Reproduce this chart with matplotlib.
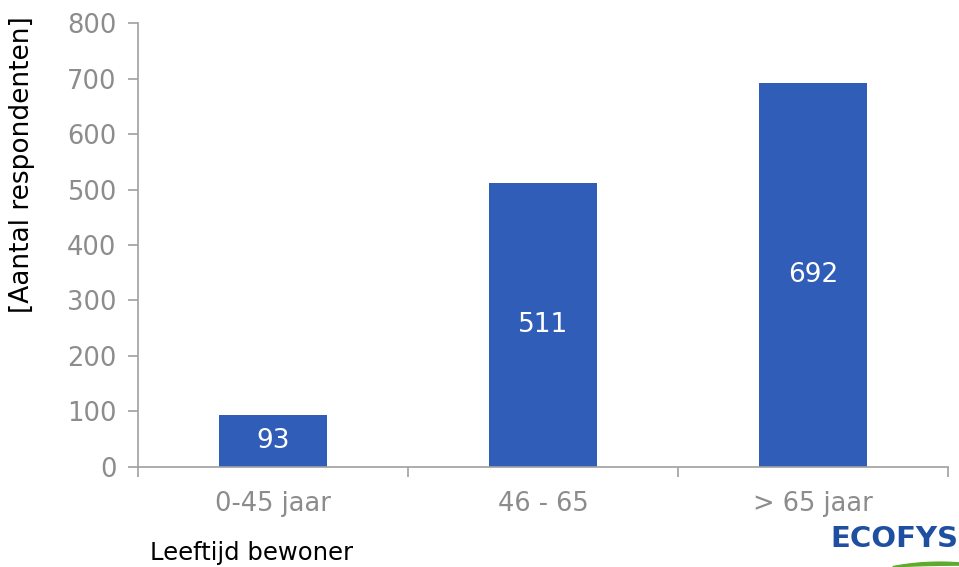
import matplotlib
matplotlib.use("Agg")
import matplotlib.pyplot as plt
import numpy as np
from matplotlib.patches import Polygon

categories = ["0-45 jaar", "46 - 65", "> 65 jaar"]
respondents = [93, 511, 692]
y_ticks = [0, 100, 200, 300, 400, 500, 600, 700, 800]

plt.rcParams["font.family"] = ["DejaVu Sans"]

W, H = 959, 567
fig = plt.figure(figsize=(W / 100, H / 100), dpi=100)
ax = fig.add_axes([0.1444, 0.1764, 0.8441, 0.7830])

bar_color = "#2F5DB8"
x = list(range(len(categories)))
ax.bar(x, respondents, width=0.4, color=bar_color)

for xi, v in zip(x, respondents):
    ax.text(xi, v / 2, str(v), ha="center", va="center",
            color="white", fontsize=19)

ax.set_xlim(-0.5, len(categories) - 0.5)
ax.set_ylim(0, 800)
ax.set_yticks(y_ticks)
ax.set_xticks(x)
ax.set_xticklabels(categories)
ax.set_xticks([-0.5, 0.5, 1.5, 2.5], minor=True)

axis_grey = "#A0A0A0"
label_grey = "#8C8C8C"
for side in ("top", "right"):
    ax.spines[side].set_visible(False)
for side in ("left", "bottom"):
    ax.spines[side].set_color(axis_grey)
    ax.spines[side].set_linewidth(1.2)

ax.tick_params(axis="y", direction="out", length=7, width=1.2,
               color=axis_grey, labelcolor=label_grey, labelsize=18.5, pad=9)
ax.tick_params(axis="x", which="major", length=0, labelcolor=label_grey,
               labelsize=18.5, pad=17)
ax.tick_params(axis="x", which="minor", direction="out", length=7,
               width=1.2, color=axis_grey)

fig.text(0.023, 0.71, "[Aantal respondenten]", rotation=90,
         ha="center", va="center", fontsize=19, color="black")
fig.text(0.156, 0.024, "Leeftijd bewoner", ha="left", va="center",
         fontsize=17.5, color="black")

# ECOFYS wordmark with green swoosh
fig.text(0.933, 0.050, "ECOFYS", ha="center", va="center",
         fontsize=21, fontweight="bold", color="#1F4FA0")
xs = np.linspace(893, 965, 40)
upper = 562 + ((xs - 940) / 50) ** 2 * 5
lower = upper + 3.5 * (1 - ((xs - 935) / 45) ** 2).clip(0)
pts = np.concatenate([np.column_stack([xs, upper]),
                      np.column_stack([xs[::-1], lower[::-1]])])
pts_fig = np.column_stack([pts[:, 0] / W, 1 - pts[:, 1] / H])
fig.patches.append(Polygon(pts_fig, closed=True, transform=fig.transFigure,
                           facecolor="#5DAA2C", edgecolor="#5DAA2C",
                           linewidth=0.8))

fig.savefig("out.png", dpi=100)
